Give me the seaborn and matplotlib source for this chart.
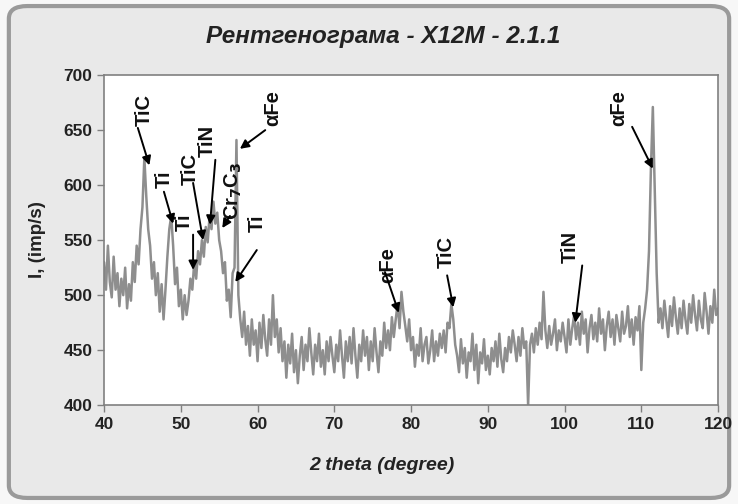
import numpy as np
import pandas as pd
import seaborn as sns
import matplotlib.pyplot as plt
from matplotlib.patches import FancyBboxPatch

# ---------------------------------------
# Data (step 0.25 deg, 40..120)
# ---------------------------------------
theta_start = 40.0
theta_step = 0.25

intensity = [
    530, 505, 545, 512,  498, 535, 505, 520,  490, 515, 500, 525,  488, 510, 495, 530,  512, 545, 528, 560,   # 40-44
    580, 625, 590, 560,  545, 515, 530, 500,  520, 485, 510, 478,  505, 535, 560, 572,  545, 510, 525, 490,   # 45-49
    505, 478, 500, 482,  495, 515, 505, 530,  515, 540, 528, 550,  535, 562, 548, 572,  560, 585, 565, 575,   # 50-54
    550, 540, 520, 530,  495, 505, 480, 520,  525, 641, 500, 478,  462, 485, 455, 472,  445, 478, 455, 468,   # 55-59
    440, 475, 452, 482,  460, 445, 478, 455,  500, 462, 478, 448,  470, 440, 458, 425,  455, 438, 465, 430,   # 60-64
    450, 420, 445, 462,  432, 455, 440, 470,  448, 428, 455, 440,  465, 435, 450, 428,  458, 440, 462, 445,   # 65-69
    430, 455, 440, 468,  445, 425, 458, 440,  462, 438, 470, 445,  425, 455, 440, 468,  445, 462, 432, 458,   # 70-74
    440, 470, 448, 430,  458, 445, 475, 452,  468, 450, 480, 462,  478, 492, 470, 503,  485, 472, 458, 478,   # 75-79
    450, 462, 435, 455,  445, 470, 440, 455,  462, 438, 450, 468,  440, 458, 445, 465,  452, 468, 448, 475,   # 80-84
    470, 492, 478, 455,  445, 430, 460, 438,  452, 425, 448, 440,  465, 432, 455, 420,  448, 438, 460, 432,   # 85-89
    445, 428, 452, 440,  458, 435, 465, 442,  430, 452, 440, 462,  448, 468, 455, 440,  462, 445, 470, 452,   # 90-94
    458, 400, 455, 465,  448, 470, 455, 475,  460, 503, 468, 452,  472, 455, 465, 478,  450, 468, 458, 475,   # 95-99
    462, 448, 478, 455,  470, 482, 460, 475,  455, 485, 465, 478,  448, 470, 482, 460,  475, 458, 488, 465,   # 100-104
    478, 450, 472, 485,  462, 478, 455, 482,  470, 458, 485, 465,  472, 490, 462, 478,  455, 480, 468, 490,   # 105-109
    432, 475, 488, 505,  540, 615, 671, 595,  520, 475, 488, 470,  495, 478, 462, 490,  472, 498, 480, 465,   # 110-114
    488, 470, 495, 478,  465, 492, 475, 500,  482, 468, 495, 478,  470, 502, 485, 465,  490, 475, 505, 482,   # 115-119
    488,
]
two_theta = theta_start + theta_step * np.arange(len(intensity))

# phase labels: text, label position (x, y), arrow start, arrow tip
labels = ['TiC', 'Ti', 'Ti', 'TiC', 'TiN', r'Cr$_7$C$_3$', 'αFe', 'Ti', 'αFe', 'TiC', 'TiN', 'αFe']
label_x = [45.2, 47.9, 50.4, 51.2, 53.5, 56.8, 62.0, 59.9, 76.9, 84.6, 100.7, 107.1]
label_y = [668, 605, 566, 615, 640, 595, 670, 565, 527, 539, 544, 670]
arrow_from = [(44.4, 652), (47.8, 594), (51.6, 555), (51.6, 602), (54.5, 623), (56.4, 572),
              (61.0, 650), (59.9, 541), (76.6, 521), (84.7, 518), (102.3, 527), (108.8, 653)]
arrow_to = [(45.9, 618), (49.0, 565), (51.6, 523), (52.9, 550), (53.8, 564), (55.4, 561),
            (57.7, 633), (57.1, 512), (78.4, 484), (85.5, 489), (101.4, 475), (111.5, 615)]

df = pd.DataFrame({'2theta': two_theta, 'I': intensity})

# ---------------------------------------
# Plot
# ---------------------------------------
sns.set_style('white')
plt.rcParams['font.family'] = ['Liberation Sans', 'DejaVu Sans']
plt.rcParams['font.weight'] = 'bold'

fig = plt.figure(figsize=(7.38, 5.04), dpi=100)
fig.patch.set_facecolor('#f7f7f7')

# rounded frame around the chart
frame = FancyBboxPatch((0.012, 0.012), 0.976, 0.976, boxstyle='round,pad=0,rounding_size=0.025',
                       transform=fig.transFigure, facecolor='#e9e9e9', edgecolor='#9a9a9a',
                       linewidth=3, zorder=-10)
fig.patches.append(frame)

ax = fig.add_axes([0.141, 0.196, 0.832, 0.655])
ax.set_facecolor('white')
ax.set_zorder(2)

sns.lineplot(data=df, x='2theta', y='I', ax=ax, color='#8e8e8e', linewidth=1.8)

ax.set_xlim(40, 120)
ax.set_ylim(400, 700)
ax.set_xticks(range(40, 121, 10))
ax.set_yticks(range(400, 701, 50))
ax.tick_params(direction='out', length=5, width=1, color='#808080',
               labelsize=12.5, labelcolor='#222222', bottom=True, left=True)
for sp in ax.spines.values():
    sp.set_color('#808080')
    sp.set_linewidth(1.2)

ax.set_xlabel('')
ax.set_ylabel('')
fig.text(0.518, 0.077, '2 theta (degree)', ha='center', va='center', fontsize=14,
         fontstyle='italic', fontweight='bold', color='#222222')
fig.text(0.051, 0.524, 'I, (imp/s)', ha='center', va='center', rotation=90, fontsize=13.5,
         fontweight='bold', color='#222222')
fig.text(0.519, 0.927, 'Рентгенограма - X12M - 2.1.1', ha='center', va='center', fontsize=17.5,
         fontstyle='italic', fontweight='bold', color='#222222')

for i, lab in enumerate(labels):
    ax.text(label_x[i], label_y[i], lab, rotation=90, ha='center', va='center',
            fontsize=14.5, fontweight='bold', color='#111111')
    ax.annotate('', xy=arrow_to[i], xytext=arrow_from[i],
                arrowprops=dict(arrowstyle='-|>', color='black', lw=1.4,
                                mutation_scale=13, shrinkA=0, shrinkB=0))

fig.savefig('out.png', dpi=100, facecolor=fig.get_facecolor())
